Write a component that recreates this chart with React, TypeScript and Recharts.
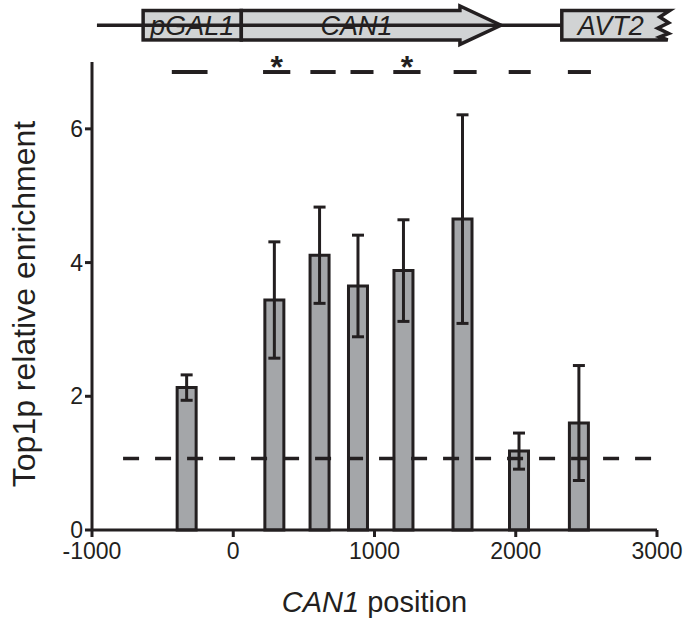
import {
  BarChart,
  Bar,
  XAxis,
  YAxis,
  ErrorBar,
  ReferenceLine,
  ReferenceArea,
  ReferenceDot,
} from "recharts";

const positions = [-332, 289, 609, 881, 1203, 1621, 2021, 2445];
const enrichment = [2.13, 3.44, 4.11, 3.65, 3.88, 4.65, 1.18, 1.6];
const errors = [0.19, 0.87, 0.72, 0.76, 0.76, 1.56, 0.27, 0.86];

const ampliconStart = [-435, 211, 546, 830, 1133, 1560, 1950, 2369];
const ampliconEnd = [-182, 404, 725, 993, 1326, 1723, 2106, 2532];
const significant = [false, true, false, false, true, false, false, false];

const geneNames = ["pGAL1", "CAN1", "AVT2"];
const geneStart = [-638, 57, 2326];
const geneEnd = [57, 1895, 3090];

const xTicks = [-1000, 0, 1000, 2000, 3000];
const yTicks = [0, 2, 4, 6];
const background = 1.07;

const INK = "#231f20";
const FONT = "'Liberation Sans', Arial, Helvetica, sans-serif";

const data = positions.map((pos, i) => ({
  pos,
  value: enrichment[i],
  err: errors[i],
}));

// gene map row sits above the plot, in data units of the y axis
const MAP_TOP = 7.77;
const MAP_BOTTOM = 7.33;
const MAP_MID = 7.55;
const AMPLICON_Y = 6.85;
const STAR_Y = 7.03;

function GeneBox(props: any) {
  const { x, y, width, height } = props;
  return (
    <g>
      <rect x={x} y={y} width={width} height={height} fill="#d1d3d4" stroke={INK} strokeWidth={3.5} />
      <text
        x={x + width / 2}
        y={y + height / 2 + 10}
        textAnchor="middle"
        fontStyle="italic"
        fontSize={27}
        fontFamily={FONT}
        fill={INK}
      >
        {geneNames[0]}
      </text>
    </g>
  );
}

function GeneArrow(props: any) {
  const { x, y, width, height } = props;
  const head = 41;
  const bx = x + width - head;
  const pts = [
    [x, y],
    [bx, y],
    [bx, y - 4.5],
    [x + width, y + height / 2],
    [bx, y + height + 4.5],
    [bx, y + height],
    [x, y + height],
  ]
    .map((p) => p.join(","))
    .join(" ");
  return (
    <g>
      <polygon points={pts} fill="#d1d3d4" stroke={INK} strokeWidth={3.5} strokeLinejoin="miter" />
      <text
        x={x + (width - head) / 2 + 6}
        y={y + height / 2 + 10}
        textAnchor="middle"
        fontStyle="italic"
        fontSize={27}
        fontFamily={FONT}
        fill={INK}
      >
        {geneNames[1]}
      </text>
    </g>
  );
}

function GeneCut(props: any) {
  const { x, y, width, height } = props;
  const r = x + width;
  const pts = [
    [x, y],
    [r, y],
    [r - 10, y + height * 0.22],
    [r - 1, y + height * 0.42],
    [r - 12, y + height * 0.6],
    [r - 1, y + height * 0.78],
    [r - 10, y + height * 0.9],
    [r - 2, y + height],
    [x, y + height],
  ]
    .map((p) => p.join(","))
    .join(" ");
  return (
    <g>
      <polygon points={pts} fill="#d1d3d4" stroke={INK} strokeWidth={3.5} />
      <text
        x={x + (width - 10) / 2}
        y={y + height / 2 + 10}
        textAnchor="middle"
        fontStyle="italic"
        fontSize={27}
        fontFamily={FONT}
        fill={INK}
      >
        {geneNames[2]}
      </text>
    </g>
  );
}

function Star(props: any) {
  const { cx, cy } = props;
  return (
    <text x={cx} y={cy + 18} textAnchor="middle" fontSize={32} fontWeight="bold" fontFamily={FONT} fill={INK}>
      *
    </text>
  );
}

const shapes = [GeneBox, GeneArrow, GeneCut];

export default function App() {
  return (
    <div style={{ position: "absolute", left: 0, top: 0, background: "#fff" }}>
      <BarChart
        width={688}
        height={628}
        data={data}
        margin={{ top: 62, right: 31, bottom: 0, left: 0 }}
      >
        <XAxis
          dataKey="pos"
          type="number"
          domain={[-1000, 3000]}
          ticks={xTicks}
          interval={0}
          height={98}
          tickSize={7}
          tickMargin={6}
          axisLine={{ stroke: INK, strokeWidth: 3 }}
          tickLine={{ stroke: INK, strokeWidth: 3 }}
          tick={{ fill: INK, fontSize: 23, fontFamily: FONT }}
          label={{
            content: (p: any) => {
              const vb = p.viewBox;
              return (
                <text
                  x={vb.x + vb.width / 2}
                  y={vb.y + 82}
                  textAnchor="middle"
                  fontSize={29}
                  fontFamily={FONT}
                  fill={INK}
                >
                  <tspan fontStyle="italic">CAN1</tspan>
                  {" position"}
                </text>
              );
            },
          }}
        />
        <YAxis
          type="number"
          domain={[0, 7]}
          ticks={yTicks}
          interval={0}
          width={92}
          tickSize={7}
          axisLine={{ stroke: INK, strokeWidth: 3 }}
          tickLine={{ stroke: INK, strokeWidth: 3 }}
          tick={{ fill: INK, fontSize: 23, fontFamily: FONT }}
          label={{
            content: (p: any) => {
              const vb = p.viewBox;
              return (
                <text
                  transform={`translate(35, ${vb.y + vb.height / 2 + 8}) rotate(-90)`}
                  textAnchor="middle"
                  fontSize={32}
                  fontFamily={FONT}
                  fill={INK}
                >
                  Top1p relative enrichment
                </text>
              );
            },
          }}
        />
        <Bar
          dataKey="value"
          barSize={19}
          fill="#a4a6a9"
          stroke={INK}
          strokeWidth={3}
          isAnimationActive={false}
        >
          <ErrorBar dataKey="err" direction="y" width={6} stroke={INK} strokeWidth={3} />
        </Bar>
        <ReferenceLine
          segment={[
            { x: -780, y: background },
            { x: 3000, y: background },
          ]}
          stroke={INK}
          strokeWidth={3.5}
          strokeDasharray="16 16"
          ifOverflow="visible"
        />
        {ampliconStart.map((s, i) => (
          <ReferenceLine
            key={`amp-${i}`}
            segment={[
              { x: s, y: AMPLICON_Y },
              { x: ampliconEnd[i], y: AMPLICON_Y },
            ]}
            stroke={INK}
            strokeWidth={4}
            ifOverflow="visible"
          />
        ))}
        {ampliconStart.map((s, i) =>
          significant[i] ? (
            <ReferenceDot
              key={`star-${i}`}
              x={(s + ampliconEnd[i]) / 2}
              y={STAR_Y}
              r={0}
              ifOverflow="visible"
              shape={Star}
            />
          ) : null
        )}
        <ReferenceLine
          segment={[
            { x: -965, y: MAP_MID },
            { x: geneStart[2], y: MAP_MID },
          ]}
          stroke={INK}
          strokeWidth={3.5}
          ifOverflow="visible"
        />
        {geneStart.map((s, i) => (
          <ReferenceArea
            key={`gene-${i}`}
            x1={s}
            x2={geneEnd[i]}
            y1={MAP_BOTTOM}
            y2={MAP_TOP}
            ifOverflow="visible"
            shape={shapes[i]}
          />
        ))}
      </BarChart>
    </div>
  );
}
